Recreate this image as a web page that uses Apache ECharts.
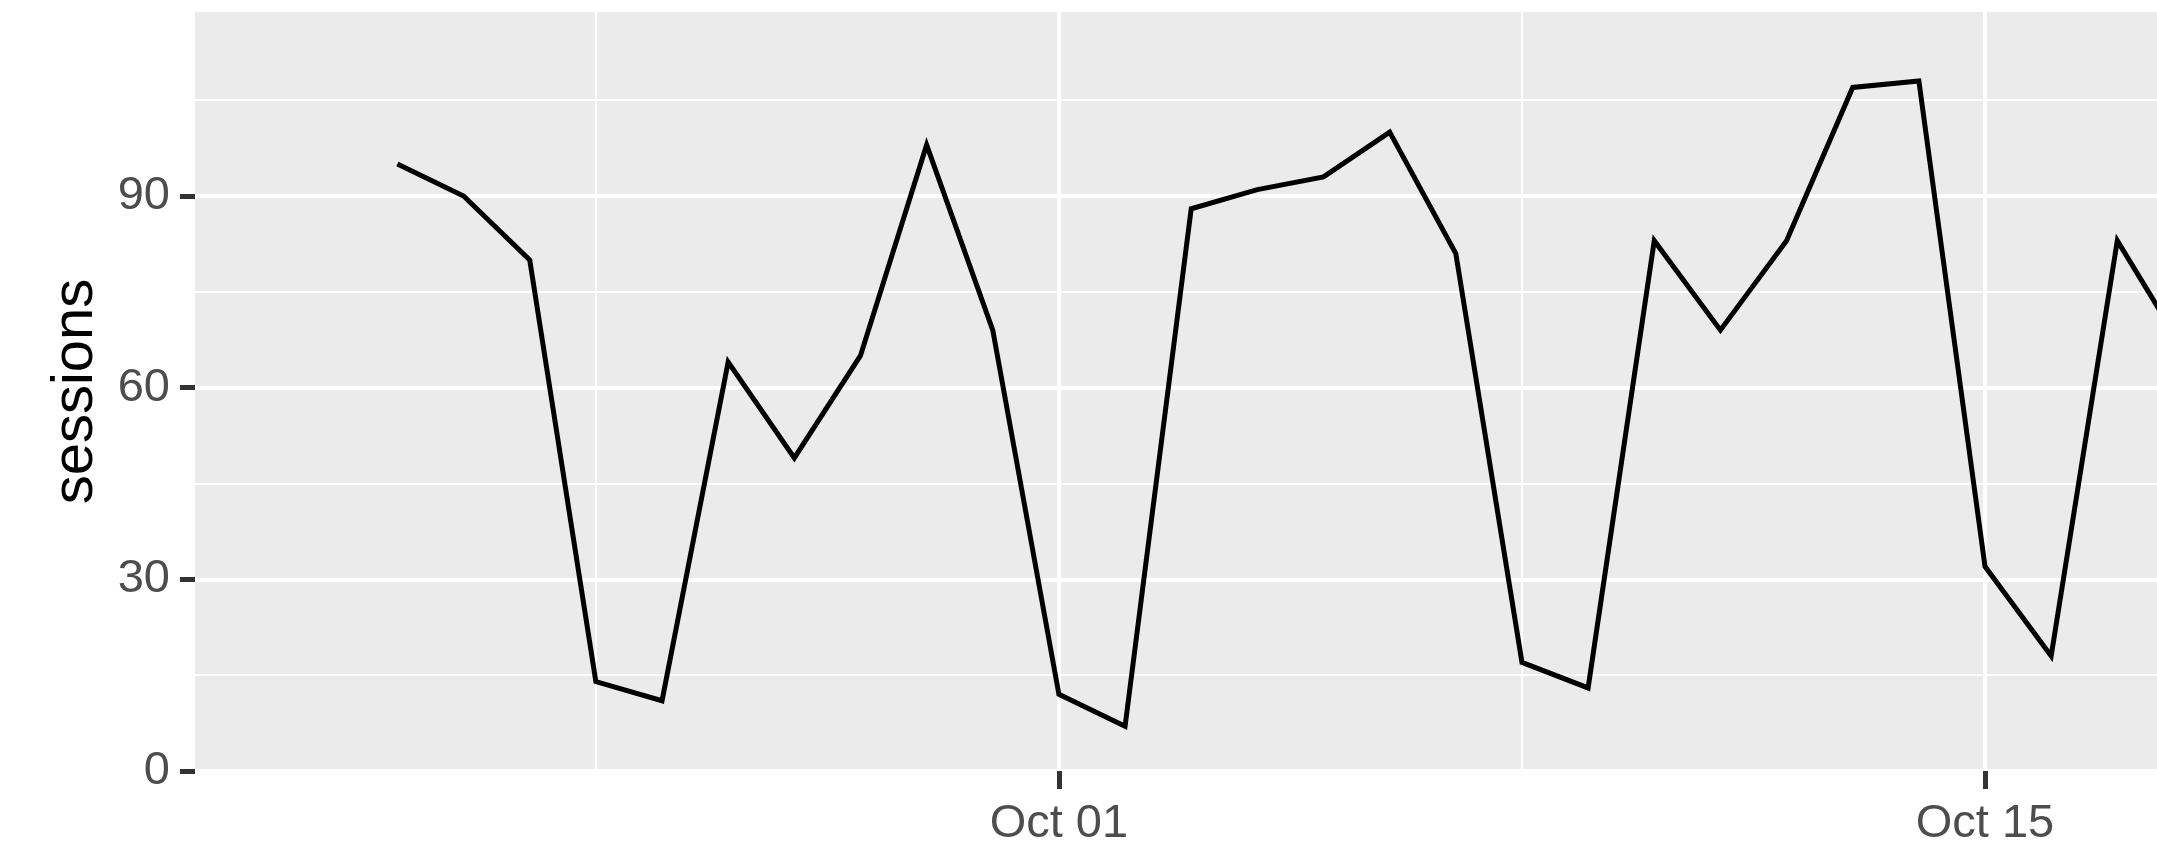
<!DOCTYPE html>
<html>
<head>
<meta charset="utf-8">
<script src="https://cdn.jsdelivr.net/npm/echarts@6.0.0/dist/echarts.min.js"></script>
<style>
html, body { margin: 0; padding: 0; background: #ffffff; }
#chartDom { width: 2157px; height: 848px; }
</style>
</head>
<body>
<div id="chartDom"></div>
<script>
// 每日 sessions 数据（从图上读出来的）
const dates = [
  '2017-09-21', '2017-09-22', '2017-09-23', '2017-09-24', '2017-09-25', '2017-09-26', '2017-09-27',
  '2017-09-28', '2017-09-29', '2017-09-30', '2017-10-01', '2017-10-02', '2017-10-03', '2017-10-04',
  '2017-10-05', '2017-10-06', '2017-10-07', '2017-10-08', '2017-10-09', '2017-10-10', '2017-10-11',
  '2017-10-12', '2017-10-13', '2017-10-14', '2017-10-15', '2017-10-16', '2017-10-17', '2017-10-18'
];
const sessions = [
  95, 90, 80, 14, 11, 64, 49,
  65, 98, 69, 12, 7, 88, 91,
  93, 100, 81, 17, 13, 83, 69,
  83, 107, 108, 32, 18, 83, 66
];

// 刻度
const yTicks = [0, 30, 60, 90];
const yMinorTicks = [15, 45, 75, 105];
const xTickDates = ['2017-10-01', '2017-10-15'];
const xMinorDates = ['2017-09-24', '2017-10-08'];

const DAY = 86400000;
const ts = (s) => Date.parse(s + 'T00:00:00Z');
const months = ['Jan', 'Feb', 'Mar', 'Apr', 'May', 'Jun', 'Jul', 'Aug', 'Sep', 'Oct', 'Nov', 'Dec'];
const fmtDate = (v) => {
  const d = new Date(v);
  return months[d.getUTCMonth()] + ' ' + String(d.getUTCDate()).padStart(2, '0');
};

// 坐标范围 (图片右边被裁掉了)
const xMin = ts('2017-10-01') - 13.06 * DAY;
const xMax = ts('2017-10-01') + 16.6 * DAY;
const yMax = 118.8;

const lineData = dates.map((d, i) => [ts(d), sessions[i]]);

const labelFont = {
  fontFamily: "'Liberation Sans', sans-serif",
  fontSize: 47,
  color: '#4d4d4d'
};

let chart = echarts.init(document.getElementById('chartDom'), null, { renderer: 'canvas' });
chart.setOption({
  animation: false,
  grid: {
    left: 195,
    right: 0,
    top: 12,
    bottom: 74,
    show: true,
    backgroundColor: '#EBEBEB',
    borderWidth: 0
  },
  xAxis: [
    {
      type: 'value',
      min: xMin,
      max: xMax,
      axisLine: { show: false },
      axisTick: {
        show: true,
        length: 18,
        lineStyle: { color: '#333333', width: 5 },
        customValues: xTickDates.map(ts)
      },
      axisLabel: Object.assign({
        margin: 30,
        customValues: xTickDates.map(ts),
        formatter: fmtDate
      }, labelFont),
      splitLine: { show: true, lineStyle: { color: '#ffffff', width: 4 } }
    },
    {
      // 次网格线
      type: 'value',
      min: xMin,
      max: xMax,
      position: 'bottom',
      axisLine: { show: false },
      axisTick: { show: false, customValues: xMinorDates.map(ts) },
      axisLabel: { show: false },
      splitLine: { show: true, lineStyle: { color: '#ffffff', width: 2 } }
    }
  ],
  yAxis: [
    {
      type: 'value',
      min: 0,
      max: yMax,
      name: 'sessions',
      nameLocation: 'middle',
      nameGap: 90,
      nameTextStyle: {
        fontFamily: "'Liberation Sans', sans-serif",
        fontSize: 58,
        color: '#000000'
      },
      axisLine: { show: false },
      axisTick: {
        show: true,
        length: 15,
        lineStyle: { color: '#333333', width: 5 },
        customValues: yTicks
      },
      axisLabel: Object.assign({
        margin: 25,
        customValues: yTicks
      }, labelFont),
      splitLine: { show: true, lineStyle: { color: '#ffffff', width: 4 } }
    },
    {
      type: 'value',
      min: 0,
      max: yMax,
      position: 'left',
      axisLine: { show: false },
      axisTick: { show: false, customValues: yMinorTicks },
      axisLabel: { show: false },
      splitLine: { show: true, lineStyle: { color: '#ffffff', width: 2 } }
    }
  ],
  series: [
    {
      name: 'sessions',
      type: 'line',
      xAxisIndex: 0,
      yAxisIndex: 0,
      data: lineData,
      showSymbol: false,
      clip: true,
      z: 5,
      lineStyle: { color: '#000000', width: 5, join: 'miter' }
    }
  ]
});
</script>
</body>
</html>
